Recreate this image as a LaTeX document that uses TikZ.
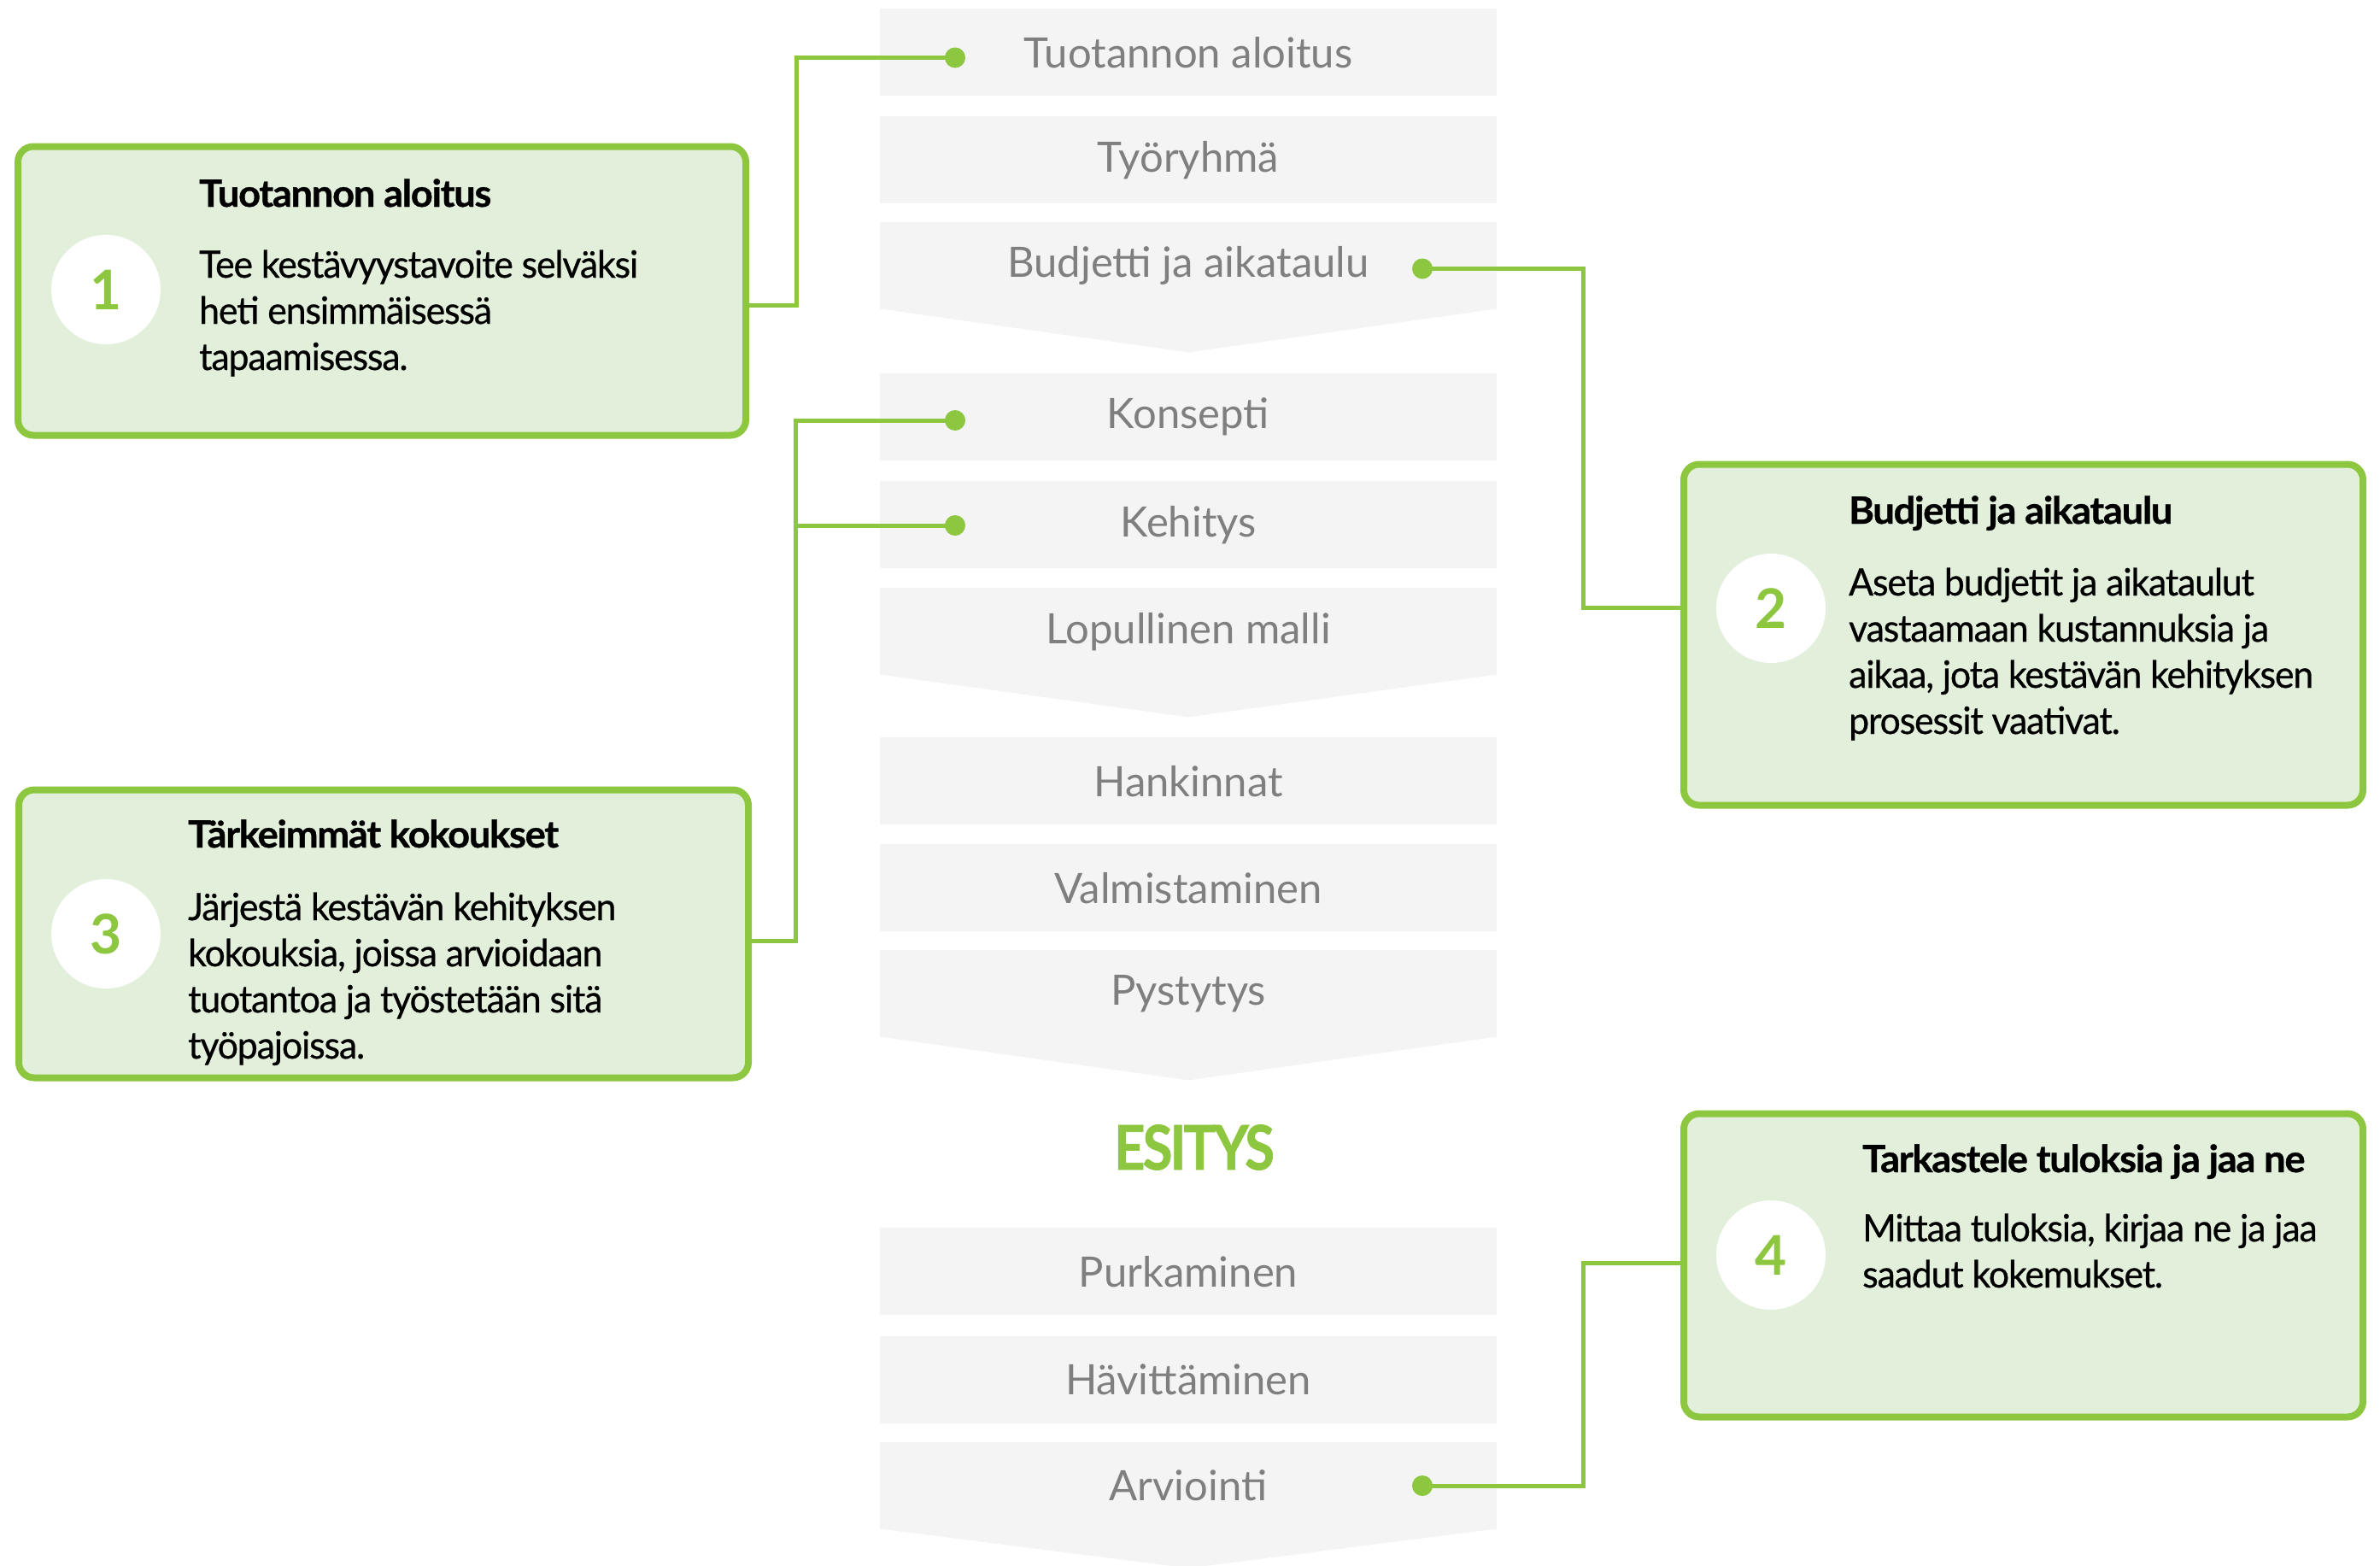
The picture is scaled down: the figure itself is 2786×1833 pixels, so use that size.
\documentclass[tikz,border=0pt]{standalone}
\usepackage{fontspec}
\setmainfont{Lato}
\newfontfamily\cf[FakeStretch=0.97,LetterSpace=-2.5,FakeBold=0.6]{Lato}
\newfontfamily\tf[FakeStretch=1.03,LetterSpace=-3,FakeBold=0.8]{Lato}
\newfontfamily\esf[FakeStretch=0.88,LetterSpace=-4,FakeBold=1]{Lato}
\usetikzlibrary{calc}
\definecolor{grn}{HTML}{8DC63F}
\definecolor{lgrn}{HTML}{E2EFDA}
\definecolor{stepbg}{HTML}{F4F4F4}
\definecolor{steptx}{HTML}{7F7F7F}
\begin{document}
\begin{tikzpicture}[x=1pt,y=-1pt,
  stepbox/.style={fill=stepbg, minimum width=722pt, minimum height=102pt, inner sep=0pt, text=steptx, font=\fontsize{49}{49}\selectfont, anchor=north},
  card/.style={draw=grn, line width=8pt, fill=lgrn, rounded corners=18pt, inner sep=0pt},
  num/.style={circle, fill=white, minimum size=128pt, inner sep=0pt, text=grn, font=\bfseries\fontsize{64}{64}\selectfont},
  ttl/.style={anchor=base west, inner sep=0pt, font=\tf\bfseries\fontsize{44}{54}\selectfont},
  body/.style={anchor=base west, inner sep=0pt, align=left, font=\cf\fontsize{44}{54}\selectfont},
  conn/.style={draw=grn, line width=5pt},
  tip/.style={fill=stepbg}]
\useasboundingbox (0,0) rectangle (2786,1833);
\fill[white] (0,0) rectangle (2786,1833);

% process column
\node[stepbox] (s1) at (1391,10) {Tuotannon aloitus};
\node[stepbox] (s2) at (1391,136) {Työryhmä};
\node[stepbox] (s3) at (1391,260) {Budjetti ja aikataulu};
\fill[tip] ($(s3.south west)+(0,-1)$) -- ($(s3.south east)+(0,-1)$) -- ($(s3.south)+(0,50)$) -- cycle;
\node[stepbox] (s4) at (1391,437) {Konsepti};
\node[stepbox] (s5) at (1391,563) {Kehitys};
\node[stepbox] (s6) at (1391,688) {Lopullinen malli};
\fill[tip] ($(s6.south west)+(0,-1)$) -- ($(s6.south east)+(0,-1)$) -- ($(s6.south)+(0,49)$) -- cycle;
\node[stepbox] (s7) at (1391,863) {Hankinnat};
\node[stepbox] (s8) at (1391,988) {Valmistaminen};
\node[stepbox] (s9) at (1391,1112) {Pystytys};
\fill[tip] ($(s9.south west)+(0,-1)$) -- ($(s9.south east)+(0,-1)$) -- ($(s9.south)+(0,50)$) -- cycle;
\node[text=grn, font=\esf\bfseries\fontsize{72}{72}\selectfont, inner sep=0pt] (es) at (1398,1343) {ESITYS};
\node[stepbox] (s10) at (1391,1437) {Purkaminen};
\node[stepbox] (s11) at (1391,1564) {Hävittäminen};
\node[stepbox] (s12) at (1391,1688) {Arviointi};
\fill[tip] ($(s12.south west)+(0,-1)$) -- ($(s12.south east)+(0,-1)$) -- ($(s12.south)+(0,45)$) -- cycle;

% cards
\node[card, minimum width=852pt, minimum height=338pt] (b1) at (447,340.5) {};
\node[num] (n1) at (124,339) {1};
\node[ttl] (t1) at (233,242) {Tuotannon aloitus};
\node[body] (p1) at (233,433) {Tee kestävyystavoite selväksi\\heti ensimmäisessä\\tapaamisessa.};

\node[card, minimum width=795pt, minimum height=399pt] (b2) at (2368.5,743) {};
\node[num] (n2) at (2073,712) {2};
\node[ttl] (t2) at (2164,613) {Budjetti ja aikataulu};
\node[body] (p2) at (2164,859) {Aseta budjetit ja aikataulut\\vastaamaan kustannuksia ja\\aikaa, jota kestävän kehityksen\\prosessit vaativat.};

\node[card, minimum width=854pt, minimum height=337pt] (b3) at (449,1093) {};
\node[num] (n3) at (124,1093) {3};
\node[ttl] (t3) at (220,992) {Tärkeimmät kokoukset};
\node[body] (p3) at (220,1239) {Järjestä kestävän kehityksen\\kokouksia, joissa arvioidaan\\tuotantoa ja työstetään sitä\\työpajoissa.};

\node[card, minimum width=795pt, minimum height=355pt] (b4) at (2368.5,1481) {};
\node[num] (n4) at (2073,1469) {4};
\node[ttl] (t4) at (2180,1372) {Tarkastele tuloksia ja jaa ne};
\node[body] (p4) at (2180,1507) {Mittaa tuloksia, kirjaa ne ja jaa\\saadut kokemukset.};

% connector ends
\coordinate (d1) at (1118,67.5);
\coordinate (d2) at (1665,314.5);
\coordinate (d3a) at (1118,492);
\coordinate (d3b) at (1118,615);
\coordinate (d4) at (1665,1739);
\coordinate (e1) at ($(b1.east)+(0,16.5)$);
\coordinate (e2) at ($(b2.west)+(0,-32)$);
\coordinate (e3) at ($(b3.east)+(0,8.5)$);
\coordinate (e4) at ($(b4.west)+(0,-3)$);

\draw[conn] (e1) -- ++(55,0) |- (d1);
\draw[conn] (d2) -| ($(e2)+(-114,0)$) -- (e2);
\draw[conn] (e3) -- ++(51,0) coordinate (j3) |- (d3a);
\draw[conn] (j3) |- (d3b);
\draw[conn] (d4) -| ($(e4)+(-114,0)$) -- (e4);
\foreach \d in {d1,d2,d3a,d3b,d4} \fill[grn] (\d) circle (12pt);
\end{tikzpicture}
\end{document}
